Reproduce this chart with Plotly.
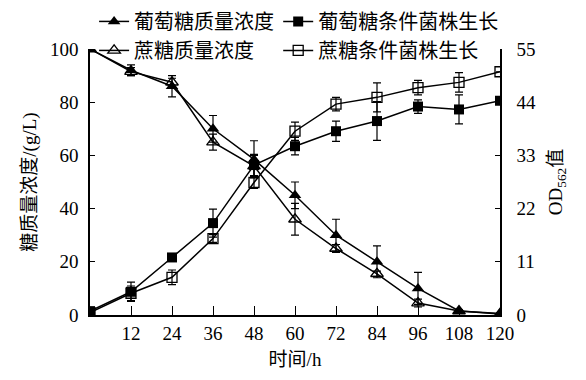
import plotly.graph_objects as go

time_h = [0, 12, 24, 36, 48, 60, 72, 84, 96, 108, 120]

glucose_conc = [100, 92, 86, 70, 58.5, 45, 30, 20, 10, 1.5, 0.6]
glucose_conc_err = [0, 2, 4, 5, 7, 5, 6, 6, 6, 0.5, 0.3]
sucrose_conc = [100, 91.5, 87.5, 65, 56, 36, 25, 15.5, 4.5, 1.5, 0.4]
sucrose_conc_err = [0, 1.5, 1.5, 3, 4, 6, 1.5, 1, 1.5, 0.5, 0.3]

glucose_growth = [0.8, 4.8, 11.9, 19.0, 31.0, 34.9, 38.0, 40.1, 43.1, 42.5, 44.3]
glucose_growth_err = [0, 2.0, 0.8, 2.9, 2.2, 1.8, 2.1, 4.0, 1.4, 3.0, 0]
sucrose_growth = [0.5, 4.5, 7.8, 15.8, 27.4, 38.0, 43.6, 45.0, 47.0, 48.1, 50.3]
sucrose_growth_err = [0, 1.5, 1.5, 0.8, 1.2, 1.9, 1.4, 3.0, 1.5, 2.0, 0]

x_ticks = [12, 24, 36, 48, 60, 72, 84, 96, 108, 120]
y_ticks = [0, 20, 40, 60, 80, 100]
y2_ticks = [0, 11, 22, 33, 44, 55]

names = ["葡萄糖质量浓度", "葡萄糖条件菌株生长", "蔗糖质量浓度", "蔗糖条件菌株生长"]

FONT = "Liberation Serif, Noto Sans CJK SC"

def err(v):
    return dict(type="data", array=v, visible=True, color="black", thickness=1.2, width=4)

fig = go.Figure()
fig.add_trace(go.Scatter(x=time_h, y=glucose_conc, name=names[0], mode="lines+markers",
                         legend="legend",
                         line=dict(color="black", width=1.5),
                         marker=dict(symbol="triangle-up", size=11, color="black"),
                         error_y=err(glucose_conc_err)))
fig.add_trace(go.Scatter(x=time_h, y=sucrose_conc, name=names[2], mode="lines+markers",
                         legend="legend",
                         line=dict(color="black", width=1.5),
                         marker=dict(symbol="triangle-up-open", size=11, color="black",
                                     line=dict(width=1.3)),
                         error_y=err(sucrose_conc_err)))
fig.add_trace(go.Scatter(x=time_h, y=glucose_growth, name=names[1], mode="lines+markers",
                         yaxis="y2", legend="legend2", line=dict(color="black", width=1.5),
                         marker=dict(symbol="square", size=10, color="black"),
                         error_y=err(glucose_growth_err)))
fig.add_trace(go.Scatter(x=time_h, y=sucrose_growth, name=names[3], mode="lines+markers",
                         yaxis="y2", legend="legend2", line=dict(color="black", width=1.5),
                         marker=dict(symbol="square-open", size=10, color="black",
                                     line=dict(width=1.3)),
                         error_y=err(sucrose_growth_err)))

leg_common = dict(orientation="v", yanchor="top", xanchor="left",
                  font=dict(size=20, family=FONT), bgcolor="rgba(0,0,0,0)",
                  itemwidth=30, tracegroupgap=0)

fig.update_layout(
    width=578, height=372,
    margin=dict(l=82, r=86, t=41, b=65, autoexpand=False),
    paper_bgcolor="white", plot_bgcolor="white",
    font=dict(family=FONT, size=19, color="black"),
    showlegend=True,
    legend=dict(x=0.01, y=1.177, **leg_common),
    legend2=dict(x=0.459, y=1.177, **leg_common),
    xaxis=dict(range=[0, 120], tickvals=x_ticks, ticktext=[str(v) for v in x_ticks],
               ticks="inside", ticklen=9, tickwidth=1.2, tickcolor="black",
               showline=True, linecolor="black", linewidth=1.5, showgrid=False, zeroline=False,
               title=dict(text="时间/h", font=dict(size=19, family=FONT), standoff=10),
               tickfont=dict(size=19)),
    yaxis=dict(range=[0, 100], tickvals=y_ticks, ticks="inside", ticklen=5, tickwidth=1.2,
               tickcolor="black", showline=True, linecolor="black", linewidth=1.5,
               showgrid=False, zeroline=False, ticklabelstandoff=6,
               title=dict(text="糖质量浓度/(g/L)", font=dict(size=19, family=FONT), standoff=8),
               tickfont=dict(size=19)),
    yaxis2=dict(range=[0, 55], tickvals=y2_ticks, overlaying="y", side="right",
                ticks="inside", ticklen=5, tickwidth=1.2, tickcolor="black",
                showline=True, linecolor="black", linewidth=1.5, showgrid=False, zeroline=False,
                ticklabelstandoff=11,
                title=dict(text="OD<sub>562</sub>值", font=dict(size=19, family=FONT), standoff=14),
                tickfont=dict(size=19)),
)

fig.write_html("out.html")
